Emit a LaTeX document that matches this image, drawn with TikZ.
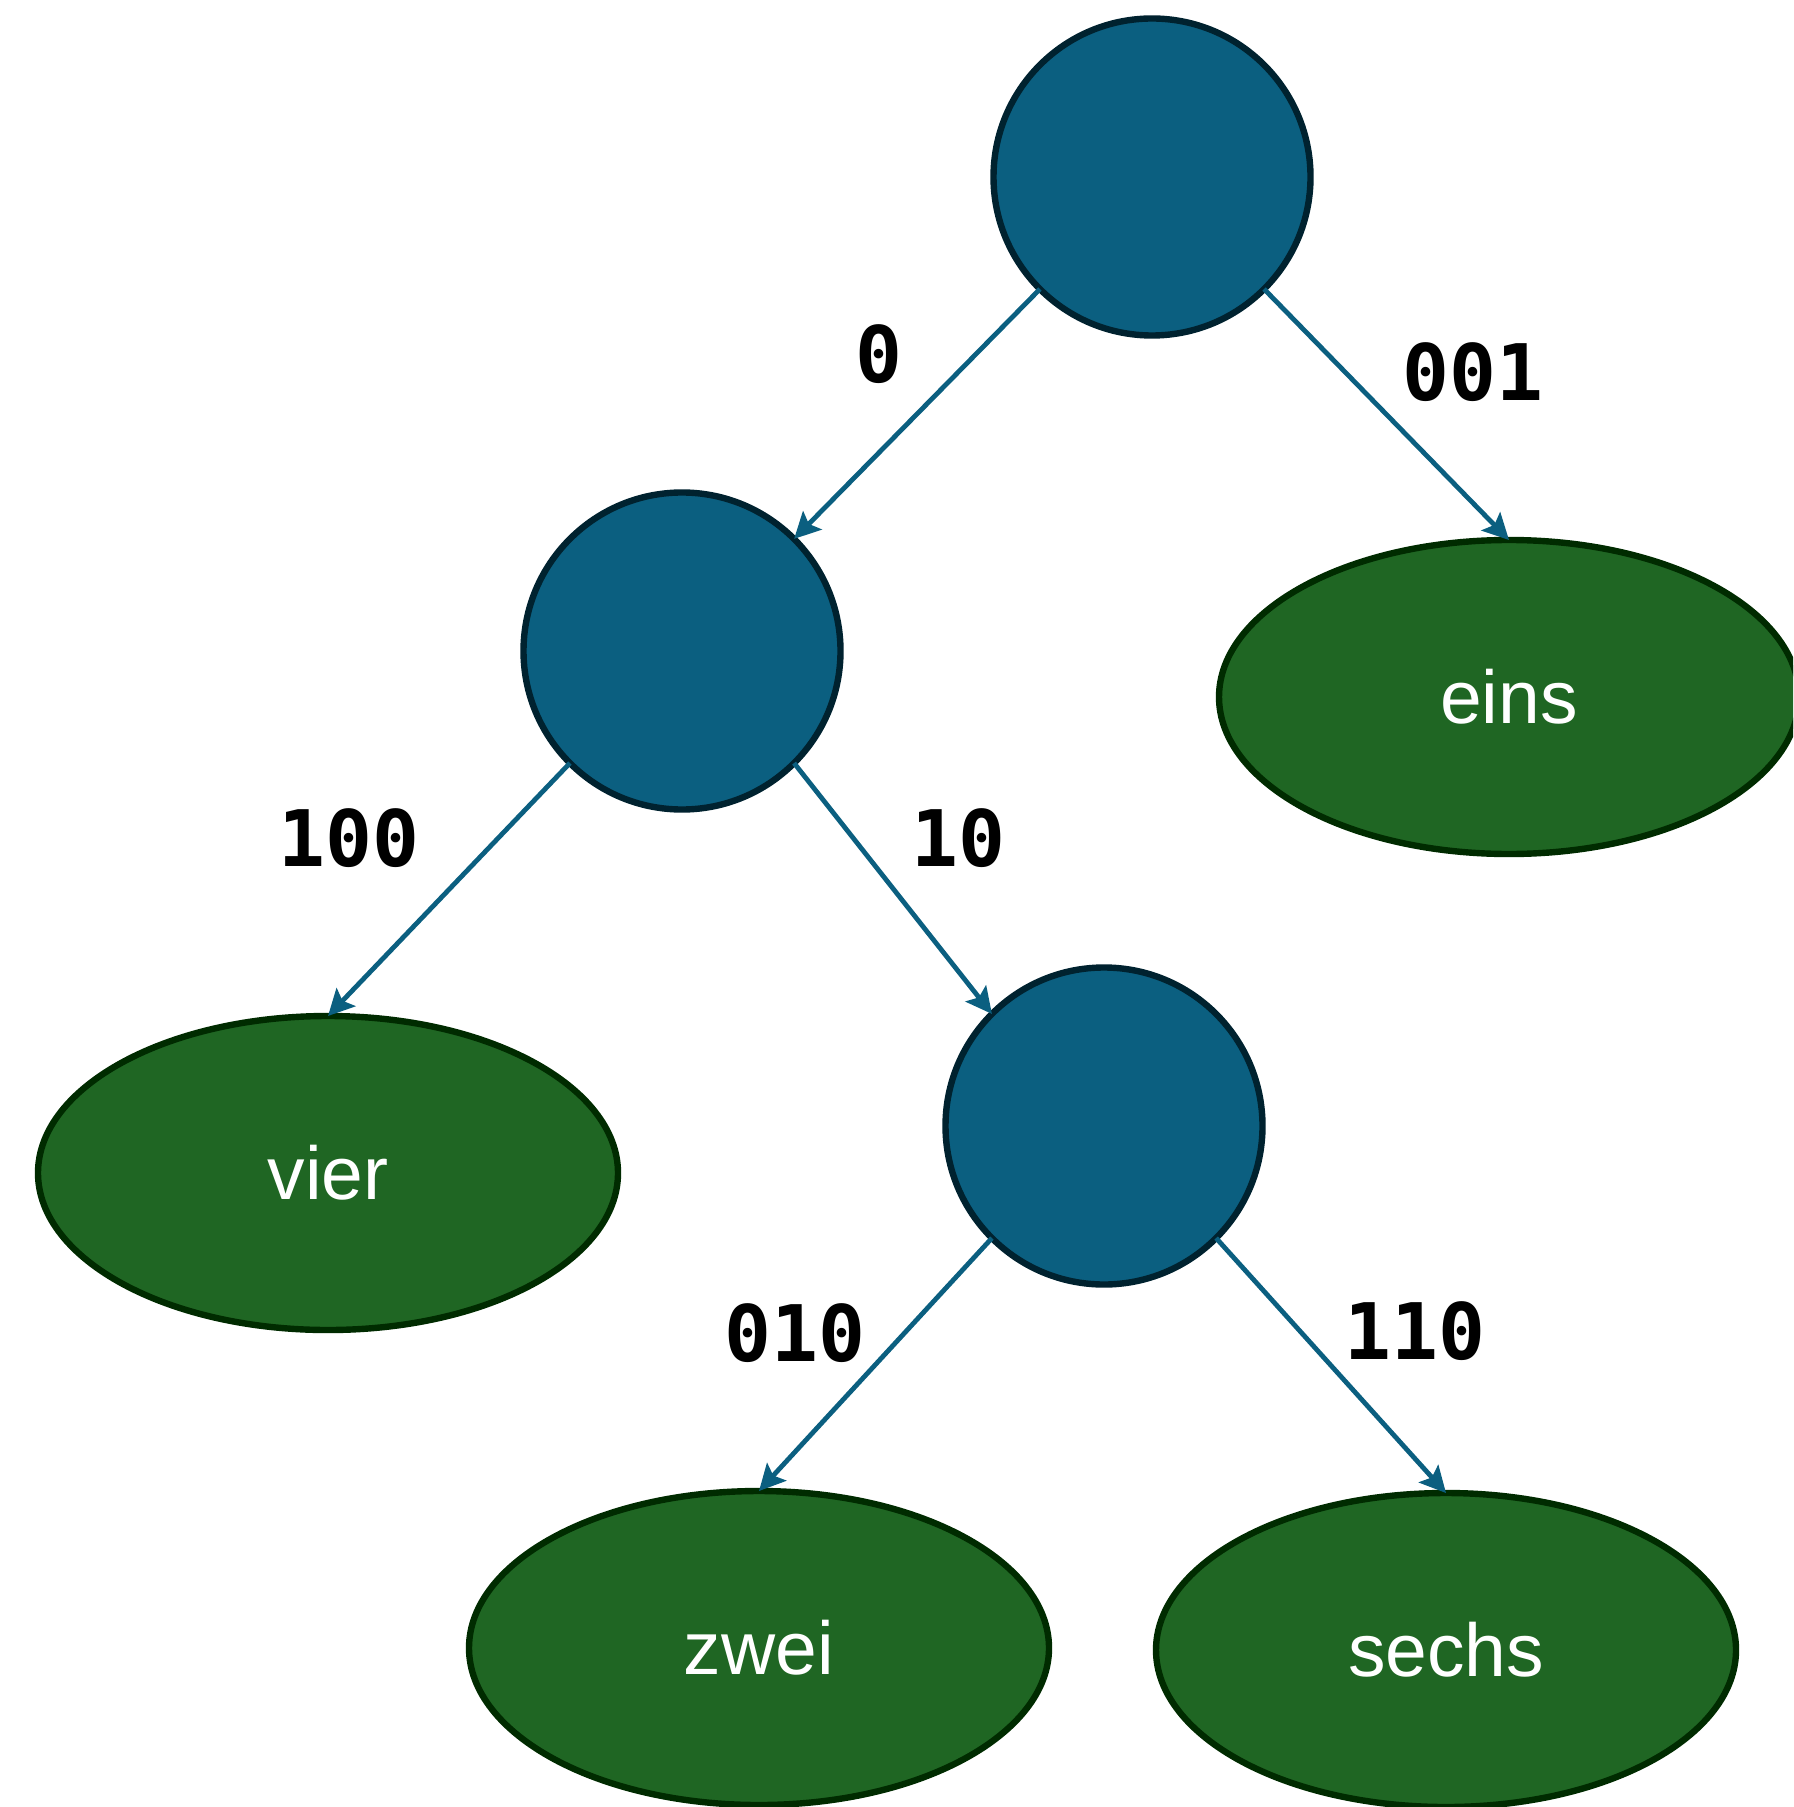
\documentclass[tikz,border=0pt]{standalone}
\usepackage{fontspec}
\setmainfont{Liberation Sans}
\newfontfamily\labelfont{DejaVu Sans Mono}
\usetikzlibrary{arrows.meta,shapes.geometric}
\definecolor{innerblue}{HTML}{0B5F80}
\definecolor{innerline}{HTML}{00222F}
\definecolor{leafgreen}{HTML}{1F6623}
\definecolor{leafline}{HTML}{002B00}
\tikzset{
  inner/.style={circle,draw=innerline,fill=innerblue,line width=3.2pt,minimum size=158.5pt,inner sep=0pt,outer sep=0pt},
  leaf/.style={ellipse,draw=leafline,fill=leafgreen,line width=3.2pt,minimum width=290pt,minimum height=157pt,inner sep=0pt,outer sep=0pt,text=white,font=\fontsize{37.5}{40}\selectfont},
  edge/.style={draw=innerblue,line width=2.4pt,-{Stealth[length=13pt,width=13pt,inset=2.5pt]}},
  code/.style={font=\labelfont\bfseries\fontsize{39}{42}\selectfont,text=black,inner sep=0pt}
}
\begin{document}
\begin{tikzpicture}[x=0.5pt,y=-0.5pt]
\useasboundingbox (0,0) rectangle (1793,1807);
\clip (0,0) rectangle (1793,1807);
\node[inner] (root) at (1152,177) {};
\node[inner] (mid) at (682,651) {};
\node[inner] (low) at (1104,1126) {};
\node[leaf] (eins) at (1509,697) {eins};
\node[leaf] (vier) at (328,1173) {vier};
\node[leaf] (zwei) at (759,1648) {zwei};
\node[leaf] (sechs) at (1446,1650) {sechs};
\draw[edge] (root.south west) -- (mid.north east);
\draw[edge] (root.south east) -- (eins.north);
\draw[edge] (mid.south west) -- (vier.north);
\draw[edge] (mid.south east) -- (low.north west);
\draw[edge] (low.south west) -- (zwei.north);
\draw[edge] (low.south east) -- (sechs.north);
\node[code] (l0) at (879,354) {0};
\node[code] (l001) at (1473,372) {001};
\node[code] (l100) at (349,838) {100};
\node[code] (l10) at (958,838) {10};
\node[code] (l010) at (795,1333) {010};
\node[code] (l110) at (1415,1331) {110};
\end{tikzpicture}
\end{document}
